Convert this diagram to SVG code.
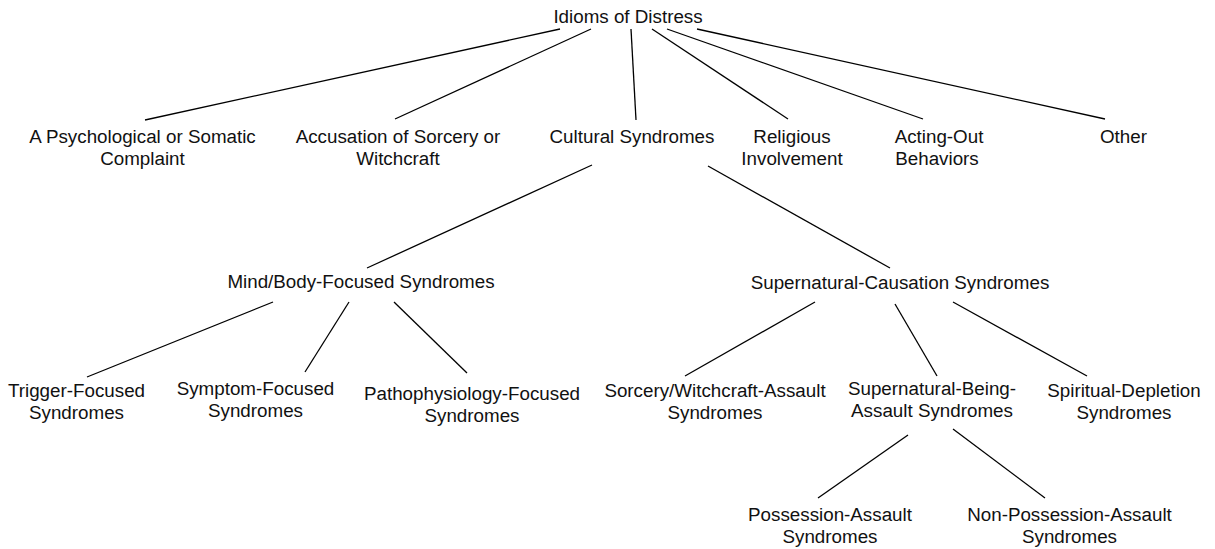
<svg xmlns="http://www.w3.org/2000/svg" width="1215" height="549" viewBox="0 0 1215 549">
<style>
text{font-family:"Liberation Sans",Arial,Helvetica,sans-serif;font-size:18.8px;fill:#111;text-anchor:middle}
.c line{stroke:#000;stroke-width:1.3}
</style>
<rect width="1215" height="549" fill="#fff"/>
<g class="c" id="connectors">
<line x1="560" y1="29" x2="145" y2="120"/>
<line x1="591" y1="29" x2="395" y2="119"/>
<line x1="631" y1="29" x2="636" y2="120"/>
<line x1="652" y1="29" x2="788" y2="119"/>
<line x1="667" y1="29" x2="923" y2="119"/>
<line x1="697" y1="29" x2="1105" y2="119"/>
<line x1="592" y1="165" x2="367" y2="268"/>
<line x1="708" y1="166" x2="890" y2="268"/>
<line x1="273" y1="302" x2="87" y2="377"/>
<line x1="349" y1="302" x2="305" y2="372"/>
<line x1="394" y1="302" x2="467" y2="373"/>
<line x1="815" y1="302" x2="685" y2="376"/>
<line x1="895" y1="304" x2="937" y2="376"/>
<line x1="953" y1="302" x2="1087" y2="376"/>
<line x1="908" y1="435" x2="818" y2="498"/>
<line x1="953" y1="429" x2="1045" y2="498"/>
</g>
<g id="root"><text x="628" y="23">Idioms of Distress</text></g>
<g id="psych"><text x="142.5" y="143">A Psychological or Somatic</text><text x="142.5" y="165">Complaint</text></g>
<g id="accusation"><text x="398" y="143">Accusation of Sorcery or</text><text x="398" y="165">Witchcraft</text></g>
<g id="cultural"><text x="632" y="143">Cultural Syndromes</text></g>
<g id="religious"><text x="792" y="143">Religious</text><text x="792" y="165">Involvement</text></g>
<g id="acting"><text x="939" y="143">Acting-Out</text><text x="937" y="165">Behaviors</text></g>
<g id="other"><text x="1123.5" y="143">Other</text></g>
<g id="mindbody"><text x="361" y="288">Mind/Body-Focused Syndromes</text></g>
<g id="supernatural"><text x="900" y="289">Supernatural-Causation Syndromes</text></g>
<g id="trigger"><text x="76.5" y="397">Trigger-Focused</text><text x="76.5" y="419">Syndromes</text></g>
<g id="symptom"><text x="255.5" y="395">Symptom-Focused</text><text x="255.5" y="417">Syndromes</text></g>
<g id="patho"><text x="472" y="400">Pathophysiology-Focused</text><text x="472" y="422">Syndromes</text></g>
<g id="sorcery"><text x="715" y="397">Sorcery/Witchcraft-Assault</text><text x="715" y="419">Syndromes</text></g>
<g id="being"><text x="932" y="395">Supernatural-Being-</text><text x="932" y="417">Assault Syndromes</text></g>
<g id="spiritual"><text x="1124" y="397">Spiritual-Depletion</text><text x="1124" y="419">Syndromes</text></g>
<g id="possession"><text x="830" y="521">Possession-Assault</text><text x="830" y="543">Syndromes</text></g>
<g id="nonpossession"><text x="1069.5" y="521">Non-Possession-Assault</text><text x="1069.5" y="543">Syndromes</text></g>
</svg>
